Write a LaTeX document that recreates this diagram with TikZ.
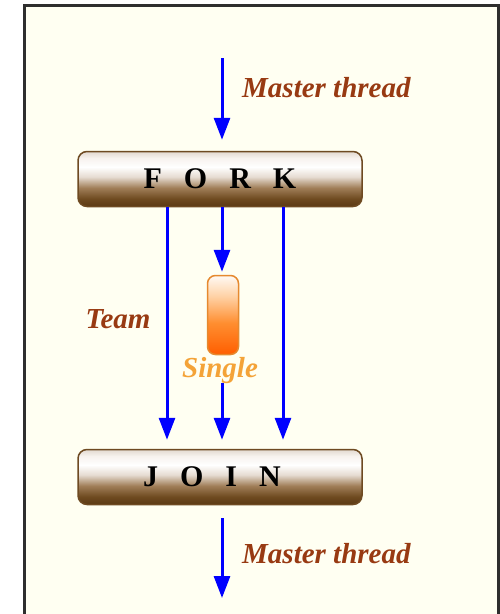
\documentclass[tikz,border=0pt]{standalone}
\usepackage{fontspec}
\setmainfont{Liberation Serif}
\usetikzlibrary{arrows.meta}

\definecolor{paper}{HTML}{FFFFF2}
\definecolor{rim}{HTML}{2E2E2E}
\definecolor{flow}{HTML}{0000FF}
\definecolor{rust}{HTML}{983A12}
\definecolor{amber}{HTML}{F4A338}
\definecolor{barEdge}{HTML}{6E4A22}
\definecolor{soloEdge}{HTML}{E6892E}

\definecolor{brA}{HTML}{5B3A14}
\definecolor{brB}{HTML}{6E4A20}
\definecolor{brC}{HTML}{A07E58}
\definecolor{brD}{HTML}{E6DCD2}
\definecolor{brE}{HTML}{FFFFFF}
\definecolor{brF}{HTML}{F7F2EE}
\definecolor{brG}{HTML}{E2D9D0}

\definecolor{orA}{HTML}{FF5E00}
\definecolor{orB}{HTML}{FF8E30}
\definecolor{orC}{HTML}{FFD2A6}
\definecolor{orD}{HTML}{FFFAF4}

% bar shading: bottom dark brown, glossy white band near the top
\pgfdeclareverticalshading{barshade}{100bp}{%
  color(0bp)=(brA); color(25bp)=(brA); color(32bp)=(brB); color(42bp)=(brC);
  color(52bp)=(brD); color(61bp)=(brE); color(69bp)=(brF); color(75bp)=(brG);
  color(100bp)=(brG)}
% orange capsule shading
\pgfdeclareverticalshading{soloshade}{100bp}{%
  color(0bp)=(orA); color(25bp)=(orA); color(45bp)=(orB); color(62bp)=(orC);
  color(75bp)=(orD); color(100bp)=(orD)}

\newcommand\lettergap{\hspace{22pt}}

\begin{document}
\begin{tikzpicture}[x=1pt,y=-1pt,
  flowarrow/.style={draw=flow, line width=3pt, -{Triangle[width=16pt,length=22pt]}},
  bar/.style={draw=barEdge, line width=1.5pt, rounded corners=9pt, shading=barshade,
    minimum width=284pt, minimum height=55pt, inner sep=0pt,
    font=\fontsize{30}{30}\selectfont\bfseries, text=black},
  solo/.style={draw=soloEdge, line width=1.5pt, rounded corners=8pt, shading=soloshade,
    minimum width=31pt, minimum height=79pt, inner sep=0pt},
  tag/.style={font=\fontsize{29}{29}\selectfont\bfseries\itshape, inner sep=0pt}]

\useasboundingbox (0,0) rectangle (500,614);
\fill[white] (0,0) rectangle (500,614);
\filldraw[fill=paper, draw=rim, line width=3pt] (24.5,5.5) rectangle (498.5,640);

% fork / join bars and the single region
\node[bar] (fork) at (220,179) {F\lettergap O\lettergap R\lettergap K};
\node[bar] (join) at (220,477) {J\lettergap O\lettergap I\lettergap N\hspace*{16pt}};
\node[solo] (single) at (223,315) {};

% labels
\node[tag, text=rust, anchor=base west] (mtin) at (242,97) {Master thread};
\node[tag, text=rust, anchor=base west] (mtout) at (242,563) {Master thread};
\node[tag, text=rust, anchor=base] (team) at (118,328) {Team};
\node[tag, text=amber, anchor=base] (singlelbl) at (220,377) {Single};

% thread lines
\coordinate (in) at (222,58);
\coordinate (t1) at (167,0);
\coordinate (t2) at (222,0);
\coordinate (t3) at (283,0);
\coordinate (after) at (222,383);
\coordinate (out) at (222,598);

\draw[flowarrow, shorten >=11pt] (in) -- (fork.north -| in);
\draw[flowarrow, shorten >=9pt] (fork.south -| t1) -- (join.north -| t1);
\draw[flowarrow, shorten >=9pt] (fork.south -| t3) -- (join.north -| t3);
\draw[flowarrow, shorten >=3pt] (fork.south -| t2) -- (single.north -| t2);
\draw[flowarrow, shorten >=9pt] (after) -- (join.north -| after);
\draw[flowarrow, shorten <=13pt] (join.south -| out) -- (out);
\end{tikzpicture}
\end{document}
